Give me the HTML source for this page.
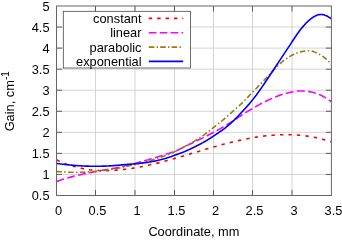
<!DOCTYPE html>
<html><head><meta charset="utf-8"><style>
html,body{margin:0;padding:0;background:#fff;overflow:hidden;}
svg{display:block;}
text{font-family:"Liberation Sans",sans-serif;font-size:12.8px;fill:#000;}
svg{will-change:transform;}
.g{stroke:#d4d4d4;stroke-width:1;}
.t{stroke:#3a3a3a;stroke-width:0.8;}
.c{fill:none;stroke-width:1.6;stroke-linejoin:round;}
</style></head><body>
<svg width="342" height="240" viewBox="0 0 342 240">
<rect width="342" height="240" fill="#fff"/>
<line x1="95.50" y1="6.0" x2="95.50" y2="195.5" class="g"/>
<line x1="135.00" y1="6.0" x2="135.00" y2="195.5" class="g"/>
<line x1="174.50" y1="6.0" x2="174.50" y2="195.5" class="g"/>
<line x1="213.50" y1="6.0" x2="213.50" y2="195.5" class="g"/>
<line x1="252.50" y1="6.0" x2="252.50" y2="195.5" class="g"/>
<line x1="292.00" y1="6.0" x2="292.00" y2="195.5" class="g"/>
<line x1="56.5" y1="174.44" x2="331.4" y2="174.44" class="g"/>
<line x1="56.5" y1="153.39" x2="331.4" y2="153.39" class="g"/>
<line x1="56.5" y1="132.34" x2="331.4" y2="132.34" class="g"/>
<line x1="56.5" y1="111.28" x2="331.4" y2="111.28" class="g"/>
<line x1="56.5" y1="90.22" x2="331.4" y2="90.22" class="g"/>
<line x1="56.5" y1="69.17" x2="331.4" y2="69.17" class="g"/>
<line x1="56.5" y1="48.12" x2="331.4" y2="48.12" class="g"/>
<line x1="56.5" y1="27.06" x2="331.4" y2="27.06" class="g"/>

<line x1="95.50" y1="195.5" x2="95.50" y2="190.0" class="t"/><line x1="95.50" y1="6.0" x2="95.50" y2="11.5" class="t"/>
<line x1="135.00" y1="195.5" x2="135.00" y2="190.0" class="t"/><line x1="135.00" y1="6.0" x2="135.00" y2="11.5" class="t"/>
<line x1="174.50" y1="195.5" x2="174.50" y2="190.0" class="t"/><line x1="174.50" y1="6.0" x2="174.50" y2="11.5" class="t"/>
<line x1="213.50" y1="195.5" x2="213.50" y2="190.0" class="t"/><line x1="213.50" y1="6.0" x2="213.50" y2="11.5" class="t"/>
<line x1="252.50" y1="195.5" x2="252.50" y2="190.0" class="t"/><line x1="252.50" y1="6.0" x2="252.50" y2="11.5" class="t"/>
<line x1="292.00" y1="195.5" x2="292.00" y2="190.0" class="t"/><line x1="292.00" y1="6.0" x2="292.00" y2="11.5" class="t"/>
<line x1="56.5" y1="174.44" x2="62.0" y2="174.44" class="t"/><line x1="331.4" y1="174.44" x2="325.9" y2="174.44" class="t"/>
<line x1="56.5" y1="153.39" x2="62.0" y2="153.39" class="t"/><line x1="331.4" y1="153.39" x2="325.9" y2="153.39" class="t"/>
<line x1="56.5" y1="132.34" x2="62.0" y2="132.34" class="t"/><line x1="331.4" y1="132.34" x2="325.9" y2="132.34" class="t"/>
<line x1="56.5" y1="111.28" x2="62.0" y2="111.28" class="t"/><line x1="331.4" y1="111.28" x2="325.9" y2="111.28" class="t"/>
<line x1="56.5" y1="90.22" x2="62.0" y2="90.22" class="t"/><line x1="331.4" y1="90.22" x2="325.9" y2="90.22" class="t"/>
<line x1="56.5" y1="69.17" x2="62.0" y2="69.17" class="t"/><line x1="331.4" y1="69.17" x2="325.9" y2="69.17" class="t"/>
<line x1="56.5" y1="48.12" x2="62.0" y2="48.12" class="t"/><line x1="331.4" y1="48.12" x2="325.9" y2="48.12" class="t"/>
<line x1="56.5" y1="27.06" x2="62.0" y2="27.06" class="t"/><line x1="331.4" y1="27.06" x2="325.9" y2="27.06" class="t"/>

<clipPath id="cp"><rect x="56.5" y="6.0" width="274.9" height="189.5"/></clipPath>
<g clip-path="url(#cp)">
<path d="M331.40,141.90 L330.40,141.57 L329.40,141.24 L328.40,140.93 L327.40,140.62 L326.40,140.32 L325.40,140.03 L324.40,139.75 L323.40,139.47 L322.40,139.20 L321.40,138.95 L320.40,138.69 L319.40,138.45 L318.40,138.22 L317.40,137.99 L316.40,137.77 L315.40,137.56 L314.40,137.36 L313.40,137.16 L312.40,136.97 L311.40,136.79 L310.40,136.62 L309.40,136.46 L308.40,136.30 L307.40,136.16 L306.40,136.02 L305.40,135.89 L304.40,135.77 L303.40,135.66 L302.40,135.55 L301.40,135.43 L300.40,135.32 L299.40,135.21 L298.40,135.11 L297.40,135.03 L296.40,134.96 L295.40,134.91 L294.40,134.87 L293.40,134.84 L292.40,134.81 L291.40,134.78 L290.40,134.76 L289.40,134.74 L288.40,134.71 L287.40,134.70 L286.40,134.68 L285.40,134.67 L284.40,134.67 L283.40,134.68 L282.40,134.69 L281.40,134.72 L280.40,134.75 L279.40,134.79 L278.40,134.84 L277.40,134.90 L276.40,134.97 L275.40,135.04 L274.40,135.11 L273.40,135.19 L272.40,135.27 L271.40,135.35 L270.40,135.43 L269.40,135.52 L268.40,135.61 L267.40,135.70 L266.40,135.80 L265.40,135.90 L264.40,136.01 L263.40,136.13 L262.40,136.25 L261.40,136.38 L260.40,136.52 L259.40,136.66 L258.40,136.81 L257.40,136.97 L256.40,137.13 L255.40,137.30 L254.40,137.47 L253.40,137.64 L252.40,137.82 L251.40,137.99 L250.40,138.17 L249.40,138.35 L248.40,138.54 L247.40,138.73 L246.40,138.92 L245.40,139.11 L244.40,139.31 L243.40,139.52 L242.40,139.73 L241.40,139.94 L240.40,140.16 L239.40,140.39 L238.40,140.62 L237.40,140.85 L236.40,141.08 L235.40,141.32 L234.40,141.56 L233.40,141.80 L232.40,142.05 L231.40,142.29 L230.40,142.53 L229.40,142.78 L228.40,143.03 L227.40,143.28 L226.40,143.53 L225.40,143.78 L224.40,144.04 L223.40,144.30 L222.40,144.56 L221.40,144.82 L220.40,145.09 L219.40,145.36 L218.40,145.63 L217.40,145.90 L216.40,146.18 L215.40,146.46 L214.40,146.74 L213.40,147.03 L212.40,147.32 L211.40,147.61 L210.40,147.90 L209.40,148.19 L208.40,148.49 L207.40,148.79 L206.40,149.08 L205.40,149.38 L204.40,149.68 L203.40,149.98 L202.40,150.28 L201.40,150.58 L200.40,150.88 L199.40,151.18 L198.40,151.48 L197.40,151.78 L196.40,152.08 L195.40,152.38 L194.40,152.68 L193.40,152.98 L192.40,153.28 L191.40,153.59 L190.40,153.89 L189.40,154.19 L188.40,154.50 L187.40,154.80 L186.40,155.09 L185.40,155.39 L184.40,155.68 L183.40,155.97 L182.40,156.26 L181.40,156.55 L180.40,156.83 L179.40,157.11 L178.40,157.40 L177.40,157.68 L176.40,157.96 L175.40,158.24 L174.40,158.53 L173.40,158.82 L172.40,159.10 L171.40,159.39 L170.40,159.68 L169.40,159.97 L168.40,160.26 L167.40,160.54 L166.40,160.82 L165.40,161.09 L164.40,161.36 L163.40,161.62 L162.40,161.88 L161.40,162.14 L160.40,162.39 L159.40,162.64 L158.40,162.88 L157.40,163.12 L156.40,163.36 L155.40,163.60 L154.40,163.84 L153.40,164.08 L152.40,164.32 L151.40,164.55 L150.40,164.79 L149.40,165.02 L148.40,165.25 L147.40,165.47 L146.40,165.70 L145.40,165.91 L144.40,166.13 L143.40,166.34 L142.40,166.54 L141.40,166.74 L140.40,166.93 L139.40,167.12 L138.40,167.31 L137.40,167.49 L136.40,167.66 L135.40,167.83 L134.40,168.00 L133.40,168.16 L132.40,168.31 L131.40,168.47 L130.40,168.61 L129.40,168.75 L128.40,168.88 L127.40,169.01 L126.40,169.14 L125.40,169.25 L124.40,169.37 L123.40,169.47 L122.40,169.57 L121.40,169.67 L120.40,169.76 L119.40,169.85 L118.40,169.93 L117.40,170.02 L116.40,170.09 L115.40,170.17 L114.40,170.24 L113.40,170.32 L112.40,170.38 L111.40,170.45 L110.40,170.51 L109.40,170.56 L108.40,170.61 L107.40,170.64 L106.40,170.67 L105.40,170.69 L104.40,170.71 L103.40,170.71 L102.40,170.70 L101.40,170.68 L100.40,170.65 L99.40,170.61 L98.40,170.57 L97.40,170.52 L96.40,170.46 L95.40,170.39 L94.40,170.32 L93.40,170.24 L92.40,170.15 L91.40,170.06 L90.40,169.95 L89.40,169.82 L88.40,169.69 L87.40,169.54 L86.40,169.37 L85.40,169.19 L84.40,168.99 L83.40,168.77 L82.40,168.54 L81.40,168.30 L80.40,168.05 L79.40,167.80 L78.40,167.54 L77.40,167.27 L76.40,167.01 L75.40,166.74 L74.40,166.47 L73.40,166.21 L72.40,165.93 L71.40,165.66 L70.40,165.37 L69.40,165.08 L68.40,164.78 L67.40,164.46 L66.40,164.14 L65.40,163.79 L64.40,163.43 L63.40,163.05 L62.40,162.65 L61.40,162.22 L60.40,161.77 L59.40,161.30 L58.40,160.80 L57.40,160.26 L56.40,159.70" class="c" stroke="#ff0000" stroke-dasharray="3.4,5.088" stroke-dashoffset="2.1"/>
<path d="M331.40,101.70 L330.40,101.00 L329.40,100.30 L328.40,99.62 L327.40,98.96 L326.40,98.32 L325.40,97.70 L324.40,97.10 L323.40,96.54 L322.40,96.00 L321.40,95.51 L320.40,95.05 L319.40,94.62 L318.40,94.22 L317.40,93.84 L316.40,93.49 L315.40,93.16 L314.40,92.85 L313.40,92.56 L312.40,92.30 L311.40,92.06 L310.40,91.84 L309.40,91.65 L308.40,91.48 L307.40,91.35 L306.40,91.24 L305.40,91.15 L304.40,91.09 L303.40,91.05 L302.40,91.01 L301.40,90.98 L300.40,90.97 L299.40,90.97 L298.40,91.00 L297.40,91.06 L296.40,91.17 L295.40,91.32 L294.40,91.50 L293.40,91.70 L292.40,91.91 L291.40,92.13 L290.40,92.35 L289.40,92.57 L288.40,92.80 L287.40,93.03 L286.40,93.28 L285.40,93.53 L284.40,93.80 L283.40,94.08 L282.40,94.38 L281.40,94.69 L280.40,95.03 L279.40,95.38 L278.40,95.75 L277.40,96.13 L276.40,96.53 L275.40,96.94 L274.40,97.36 L273.40,97.79 L272.40,98.22 L271.40,98.67 L270.40,99.12 L269.40,99.57 L268.40,100.04 L267.40,100.51 L266.40,100.99 L265.40,101.48 L264.40,101.97 L263.40,102.48 L262.40,102.99 L261.40,103.52 L260.40,104.05 L259.40,104.59 L258.40,105.14 L257.40,105.69 L256.40,106.26 L255.40,106.83 L254.40,107.40 L253.40,107.98 L252.40,108.56 L251.40,109.14 L250.40,109.73 L249.40,110.33 L248.40,110.93 L247.40,111.53 L246.40,112.15 L245.40,112.77 L244.40,113.40 L243.40,114.04 L242.40,114.69 L241.40,115.35 L240.40,116.02 L239.40,116.70 L238.40,117.38 L237.40,118.06 L236.40,118.73 L235.40,119.41 L234.40,120.08 L233.40,120.74 L232.40,121.39 L231.40,122.03 L230.40,122.66 L229.40,123.28 L228.40,123.90 L227.40,124.51 L226.40,125.10 L225.40,125.70 L224.40,126.29 L223.40,126.87 L222.40,127.45 L221.40,128.02 L220.40,128.59 L219.40,129.16 L218.40,129.72 L217.40,130.27 L216.40,130.83 L215.40,131.37 L214.40,131.92 L213.40,132.45 L212.40,132.99 L211.40,133.51 L210.40,134.04 L209.40,134.56 L208.40,135.07 L207.40,135.58 L206.40,136.09 L205.40,136.60 L204.40,137.10 L203.40,137.60 L202.40,138.10 L201.40,138.59 L200.40,139.09 L199.40,139.58 L198.40,140.07 L197.40,140.56 L196.40,141.04 L195.40,141.53 L194.40,142.01 L193.40,142.49 L192.40,142.97 L191.40,143.44 L190.40,143.92 L189.40,144.40 L188.40,144.87 L187.40,145.35 L186.40,145.83 L185.40,146.32 L184.40,146.80 L183.40,147.29 L182.40,147.79 L181.40,148.28 L180.40,148.76 L179.40,149.24 L178.40,149.71 L177.40,150.17 L176.40,150.61 L175.40,151.04 L174.40,151.44 L173.40,151.82 L172.40,152.18 L171.40,152.52 L170.40,152.84 L169.40,153.16 L168.40,153.47 L167.40,153.77 L166.40,154.07 L165.40,154.38 L164.40,154.69 L163.40,155.00 L162.40,155.32 L161.40,155.64 L160.40,155.97 L159.40,156.29 L158.40,156.62 L157.40,156.94 L156.40,157.26 L155.40,157.58 L154.40,157.89 L153.40,158.19 L152.40,158.49 L151.40,158.79 L150.40,159.08 L149.40,159.36 L148.40,159.65 L147.40,159.93 L146.40,160.21 L145.40,160.49 L144.40,160.77 L143.40,161.04 L142.40,161.32 L141.40,161.59 L140.40,161.86 L139.40,162.14 L138.40,162.40 L137.40,162.67 L136.40,162.93 L135.40,163.20 L134.40,163.45 L133.40,163.71 L132.40,163.96 L131.40,164.22 L130.40,164.47 L129.40,164.71 L128.40,164.96 L127.40,165.21 L126.40,165.46 L125.40,165.70 L124.40,165.95 L123.40,166.19 L122.40,166.44 L121.40,166.68 L120.40,166.92 L119.40,167.15 L118.40,167.38 L117.40,167.60 L116.40,167.82 L115.40,168.02 L114.40,168.22 L113.40,168.40 L112.40,168.58 L111.40,168.75 L110.40,168.91 L109.40,169.08 L108.40,169.24 L107.40,169.40 L106.40,169.56 L105.40,169.73 L104.40,169.90 L103.40,170.08 L102.40,170.26 L101.40,170.45 L100.40,170.64 L99.40,170.83 L98.40,171.03 L97.40,171.22 L96.40,171.42 L95.40,171.62 L94.40,171.82 L93.40,172.02 L92.40,172.21 L91.40,172.41 L90.40,172.61 L89.40,172.81 L88.40,173.01 L87.40,173.21 L86.40,173.42 L85.40,173.62 L84.40,173.83 L83.40,174.04 L82.40,174.25 L81.40,174.47 L80.40,174.69 L79.40,174.91 L78.40,175.14 L77.40,175.37 L76.40,175.60 L75.40,175.85 L74.40,176.09 L73.40,176.35 L72.40,176.60 L71.40,176.87 L70.40,177.14 L69.40,177.41 L68.40,177.70 L67.40,177.99 L66.40,178.28 L65.40,178.58 L64.40,178.89 L63.40,179.20 L62.40,179.53 L61.40,179.85 L60.40,180.19 L59.40,180.53 L58.40,180.88 L57.40,181.24 L56.40,181.60" class="c" stroke="#ff00ff" stroke-dasharray="7.9,3.364" stroke-dashoffset="4.7"/>
<path d="M331.40,64.00 L330.40,63.00 L329.40,62.02 L328.40,61.07 L327.40,60.16 L326.40,59.28 L325.40,58.44 L324.40,57.63 L323.40,56.88 L322.40,56.17 L321.40,55.51 L320.40,54.90 L319.40,54.33 L318.40,53.80 L317.40,53.29 L316.40,52.82 L315.40,52.37 L314.40,51.96 L313.40,51.60 L312.40,51.30 L311.40,51.07 L310.40,50.91 L309.40,50.81 L308.40,50.77 L307.40,50.78 L306.40,50.84 L305.40,50.93 L304.40,51.07 L303.40,51.23 L302.40,51.42 L301.40,51.63 L300.40,51.87 L299.40,52.13 L298.40,52.42 L297.40,52.76 L296.40,53.13 L295.40,53.54 L294.40,53.99 L293.40,54.48 L292.40,54.99 L291.40,55.53 L290.40,56.09 L289.40,56.68 L288.40,57.30 L287.40,57.94 L286.40,58.62 L285.40,59.33 L284.40,60.07 L283.40,60.85 L282.40,61.66 L281.40,62.51 L280.40,63.40 L279.40,64.32 L278.40,65.27 L277.40,66.24 L276.40,67.24 L275.40,68.25 L274.40,69.28 L273.40,70.33 L272.40,71.38 L271.40,72.43 L270.40,73.49 L269.40,74.56 L268.40,75.62 L267.40,76.68 L266.40,77.75 L265.40,78.81 L264.40,79.87 L263.40,80.93 L262.40,81.98 L261.40,83.03 L260.40,84.07 L259.40,85.12 L258.40,86.16 L257.40,87.19 L256.40,88.23 L255.40,89.27 L254.40,90.31 L253.40,91.36 L252.40,92.40 L251.40,93.46 L250.40,94.51 L249.40,95.56 L248.40,96.61 L247.40,97.66 L246.40,98.69 L245.40,99.71 L244.40,100.72 L243.40,101.71 L242.40,102.68 L241.40,103.63 L240.40,104.56 L239.40,105.48 L238.40,106.39 L237.40,107.29 L236.40,108.18 L235.40,109.07 L234.40,109.96 L233.40,110.84 L232.40,111.74 L231.40,112.63 L230.40,113.53 L229.40,114.43 L228.40,115.32 L227.40,116.21 L226.40,117.09 L225.40,117.96 L224.40,118.82 L223.40,119.67 L222.40,120.50 L221.40,121.31 L220.40,122.11 L219.40,122.90 L218.40,123.69 L217.40,124.47 L216.40,125.24 L215.40,126.02 L214.40,126.80 L213.40,127.58 L212.40,128.37 L211.40,129.16 L210.40,129.96 L209.40,130.75 L208.40,131.54 L207.40,132.32 L206.40,133.10 L205.40,133.86 L204.40,134.61 L203.40,135.34 L202.40,136.05 L201.40,136.74 L200.40,137.41 L199.40,138.07 L198.40,138.72 L197.40,139.35 L196.40,139.97 L195.40,140.57 L194.40,141.17 L193.40,141.75 L192.40,142.32 L191.40,142.88 L190.40,143.44 L189.40,143.99 L188.40,144.54 L187.40,145.08 L186.40,145.61 L185.40,146.15 L184.40,146.69 L183.40,147.22 L182.40,147.76 L181.40,148.29 L180.40,148.82 L179.40,149.35 L178.40,149.87 L177.40,150.38 L176.40,150.88 L175.40,151.37 L174.40,151.85 L173.40,152.31 L172.40,152.75 L171.40,153.19 L170.40,153.61 L169.40,154.02 L168.40,154.41 L167.40,154.80 L166.40,155.18 L165.40,155.55 L164.40,155.92 L163.40,156.28 L162.40,156.63 L161.40,156.98 L160.40,157.32 L159.40,157.66 L158.40,157.99 L157.40,158.32 L156.40,158.65 L155.40,158.97 L154.40,159.29 L153.40,159.61 L152.40,159.93 L151.40,160.24 L150.40,160.55 L149.40,160.85 L148.40,161.15 L147.40,161.44 L146.40,161.72 L145.40,161.99 L144.40,162.26 L143.40,162.52 L142.40,162.77 L141.40,163.01 L140.40,163.25 L139.40,163.49 L138.40,163.72 L137.40,163.95 L136.40,164.18 L135.40,164.41 L134.40,164.64 L133.40,164.87 L132.40,165.10 L131.40,165.34 L130.40,165.57 L129.40,165.80 L128.40,166.03 L127.40,166.26 L126.40,166.49 L125.40,166.71 L124.40,166.93 L123.40,167.15 L122.40,167.36 L121.40,167.57 L120.40,167.78 L119.40,167.98 L118.40,168.17 L117.40,168.36 L116.40,168.55 L115.40,168.73 L114.40,168.90 L113.40,169.07 L112.40,169.23 L111.40,169.39 L110.40,169.54 L109.40,169.69 L108.40,169.84 L107.40,169.98 L106.40,170.11 L105.40,170.25 L104.40,170.38 L103.40,170.51 L102.40,170.63 L101.40,170.75 L100.40,170.87 L99.40,170.99 L98.40,171.10 L97.40,171.21 L96.40,171.31 L95.40,171.41 L94.40,171.50 L93.40,171.60 L92.40,171.68 L91.40,171.76 L90.40,171.84 L89.40,171.91 L88.40,171.97 L87.40,172.03 L86.40,172.08 L85.40,172.13 L84.40,172.17 L83.40,172.20 L82.40,172.23 L81.40,172.25 L80.40,172.27 L79.40,172.28 L78.40,172.29 L77.40,172.30 L76.40,172.30 L75.40,172.30 L74.40,172.29 L73.40,172.29 L72.40,172.28 L71.40,172.26 L70.40,172.24 L69.40,172.22 L68.40,172.19 L67.40,172.16 L66.40,172.12 L65.40,172.07 L64.40,172.02 L63.40,171.97 L62.40,171.91 L61.40,171.84 L60.40,171.77 L59.40,171.69 L58.40,171.60 L57.40,171.50 L56.40,171.40" class="c" stroke="#9a7a0c" stroke-dasharray="5.5,2.4,1.5,2.38" stroke-dashoffset="5.2"/>
<path d="M331.40,18.80 L330.40,18.11 L329.40,17.46 L328.40,16.85 L327.40,16.30 L326.40,15.81 L325.40,15.39 L324.40,15.05 L323.40,14.78 L322.40,14.61 L321.40,14.52 L320.40,14.52 L319.40,14.61 L318.40,14.79 L317.40,15.06 L316.40,15.43 L315.40,15.89 L314.40,16.44 L313.40,17.05 L312.40,17.72 L311.40,18.44 L310.40,19.20 L309.40,20.01 L308.40,20.88 L307.40,21.81 L306.40,22.80 L305.40,23.85 L304.40,24.96 L303.40,26.12 L302.40,27.31 L301.40,28.54 L300.40,29.81 L299.40,31.11 L298.40,32.45 L297.40,33.83 L296.40,35.26 L295.40,36.74 L294.40,38.24 L293.40,39.76 L292.40,41.29 L291.40,42.82 L290.40,44.34 L289.40,45.86 L288.40,47.37 L287.40,48.88 L286.40,50.38 L285.40,51.89 L284.40,53.39 L283.40,54.89 L282.40,56.40 L281.40,57.90 L280.40,59.41 L279.40,60.92 L278.40,62.43 L277.40,63.94 L276.40,65.45 L275.40,66.96 L274.40,68.47 L273.40,69.99 L272.40,71.50 L271.40,73.01 L270.40,74.51 L269.40,76.02 L268.40,77.52 L267.40,79.02 L266.40,80.51 L265.40,82.00 L264.40,83.48 L263.40,84.95 L262.40,86.42 L261.40,87.87 L260.40,89.31 L259.40,90.74 L258.40,92.15 L257.40,93.54 L256.40,94.91 L255.40,96.26 L254.40,97.58 L253.40,98.87 L252.40,100.12 L251.40,101.35 L250.40,102.54 L249.40,103.71 L248.40,104.86 L247.40,105.98 L246.40,107.09 L245.40,108.19 L244.40,109.28 L243.40,110.37 L242.40,111.45 L241.40,112.53 L240.40,113.61 L239.40,114.68 L238.40,115.74 L237.40,116.79 L236.40,117.82 L235.40,118.84 L234.40,119.84 L233.40,120.82 L232.40,121.77 L231.40,122.69 L230.40,123.60 L229.40,124.47 L228.40,125.33 L227.40,126.16 L226.40,126.98 L225.40,127.77 L224.40,128.55 L223.40,129.30 L222.40,130.04 L221.40,130.76 L220.40,131.47 L219.40,132.17 L218.40,132.86 L217.40,133.53 L216.40,134.20 L215.40,134.86 L214.40,135.51 L213.40,136.17 L212.40,136.81 L211.40,137.46 L210.40,138.10 L209.40,138.74 L208.40,139.36 L207.40,139.98 L206.40,140.59 L205.40,141.19 L204.40,141.77 L203.40,142.34 L202.40,142.90 L201.40,143.44 L200.40,143.97 L199.40,144.50 L198.40,145.01 L197.40,145.52 L196.40,146.02 L195.40,146.51 L194.40,147.00 L193.40,147.49 L192.40,147.98 L191.40,148.46 L190.40,148.94 L189.40,149.42 L188.40,149.88 L187.40,150.34 L186.40,150.78 L185.40,151.21 L184.40,151.64 L183.40,152.04 L182.40,152.44 L181.40,152.82 L180.40,153.19 L179.40,153.55 L178.40,153.91 L177.40,154.27 L176.40,154.62 L175.40,154.98 L174.40,155.34 L173.40,155.70 L172.40,156.06 L171.40,156.42 L170.40,156.79 L169.40,157.14 L168.40,157.49 L167.40,157.83 L166.40,158.16 L165.40,158.48 L164.40,158.78 L163.40,159.06 L162.40,159.33 L161.40,159.59 L160.40,159.84 L159.40,160.07 L158.40,160.30 L157.40,160.51 L156.40,160.72 L155.40,160.92 L154.40,161.12 L153.40,161.31 L152.40,161.50 L151.40,161.68 L150.40,161.85 L149.40,162.02 L148.40,162.19 L147.40,162.35 L146.40,162.50 L145.40,162.64 L144.40,162.78 L143.40,162.91 L142.40,163.04 L141.40,163.16 L140.40,163.27 L139.40,163.38 L138.40,163.48 L137.40,163.58 L136.40,163.68 L135.40,163.77 L134.40,163.85 L133.40,163.93 L132.40,164.01 L131.40,164.09 L130.40,164.17 L129.40,164.25 L128.40,164.33 L127.40,164.40 L126.40,164.48 L125.40,164.57 L124.40,164.65 L123.40,164.74 L122.40,164.83 L121.40,164.92 L120.40,165.01 L119.40,165.11 L118.40,165.20 L117.40,165.29 L116.40,165.38 L115.40,165.47 L114.40,165.55 L113.40,165.63 L112.40,165.70 L111.40,165.77 L110.40,165.84 L109.40,165.90 L108.40,165.96 L107.40,166.01 L106.40,166.05 L105.40,166.09 L104.40,166.12 L103.40,166.14 L102.40,166.16 L101.40,166.18 L100.40,166.19 L99.40,166.19 L98.40,166.20 L97.40,166.20 L96.40,166.20 L95.40,166.20 L94.40,166.20 L93.40,166.20 L92.40,166.20 L91.40,166.19 L90.40,166.19 L89.40,166.18 L88.40,166.16 L87.40,166.14 L86.40,166.11 L85.40,166.08 L84.40,166.04 L83.40,165.99 L82.40,165.94 L81.40,165.88 L80.40,165.82 L79.40,165.75 L78.40,165.68 L77.40,165.61 L76.40,165.53 L75.40,165.45 L74.40,165.37 L73.40,165.29 L72.40,165.21 L71.40,165.12 L70.40,165.03 L69.40,164.94 L68.40,164.84 L67.40,164.74 L66.40,164.64 L65.40,164.54 L64.40,164.43 L63.40,164.31 L62.40,164.20 L61.40,164.08 L60.40,163.95 L59.40,163.82 L58.40,163.69 L57.40,163.55 L56.40,163.40" class="c" stroke="#0000ff"/>
</g>
<rect x="63.3" y="11.3" width="127.1" height="56.7" fill="#fff" stroke="#3c3c3c" stroke-width="0.75"/>
<rect x="56.5" y="6.0" width="274.9" height="189.5" fill="none" stroke="#666" stroke-width="1"/>
<g>
<text x="141.5" y="23.1" text-anchor="end">constant</text>
<text x="141.5" y="37.4" text-anchor="end">linear</text>
<text x="141.5" y="51.8" text-anchor="end">parabolic</text>
<text x="141.5" y="66.1" text-anchor="end">exponential</text>

<path d="M148.8,18.4 H183.2" class="c" stroke="#ff0000" stroke-dasharray="3.4,5.0"/>
<path d="M148.8,32.7 H183.2" class="c" stroke="#ff00ff" stroke-dasharray="7.7,3.2"/>
<path d="M148.8,47.1 H182.4" class="c" stroke="#9a7a0c" stroke-dasharray="5.6,2.2,1.4,2.2"/>
<path d="M148.8,61.4 H183.2" class="c" stroke="#0000ff"/>
</g>
<text x="58.50" y="214.8" text-anchor="middle">0</text>
<text x="97.50" y="214.8" text-anchor="middle">0.5</text>
<text x="137.00" y="214.8" text-anchor="middle">1</text>
<text x="176.50" y="214.8" text-anchor="middle">1.5</text>
<text x="215.50" y="214.8" text-anchor="middle">2</text>
<text x="254.50" y="214.8" text-anchor="middle">2.5</text>
<text x="294.00" y="214.8" text-anchor="middle">3</text>
<text x="333.50" y="214.8" text-anchor="middle">3.5</text>
<text x="49.5" y="200.10" text-anchor="end">0.5</text>
<text x="49.5" y="179.04" text-anchor="end">1</text>
<text x="49.5" y="157.99" text-anchor="end">1.5</text>
<text x="49.5" y="136.94" text-anchor="end">2</text>
<text x="49.5" y="115.88" text-anchor="end">2.5</text>
<text x="49.5" y="94.82" text-anchor="end">3</text>
<text x="49.5" y="73.77" text-anchor="end">3.5</text>
<text x="49.5" y="52.72" text-anchor="end">4</text>
<text x="49.5" y="31.66" text-anchor="end">4.5</text>
<text x="49.5" y="10.60" text-anchor="end">5</text>

<text x="193.9" y="236.1" text-anchor="middle">Coordinate, mm</text>
<text transform="translate(14.1,101.2) rotate(-90)" text-anchor="middle">Gain, cm<tspan dy="-4.8" dx="0.2" font-size="10px">-1</tspan></text>
</svg>
</body></html>
